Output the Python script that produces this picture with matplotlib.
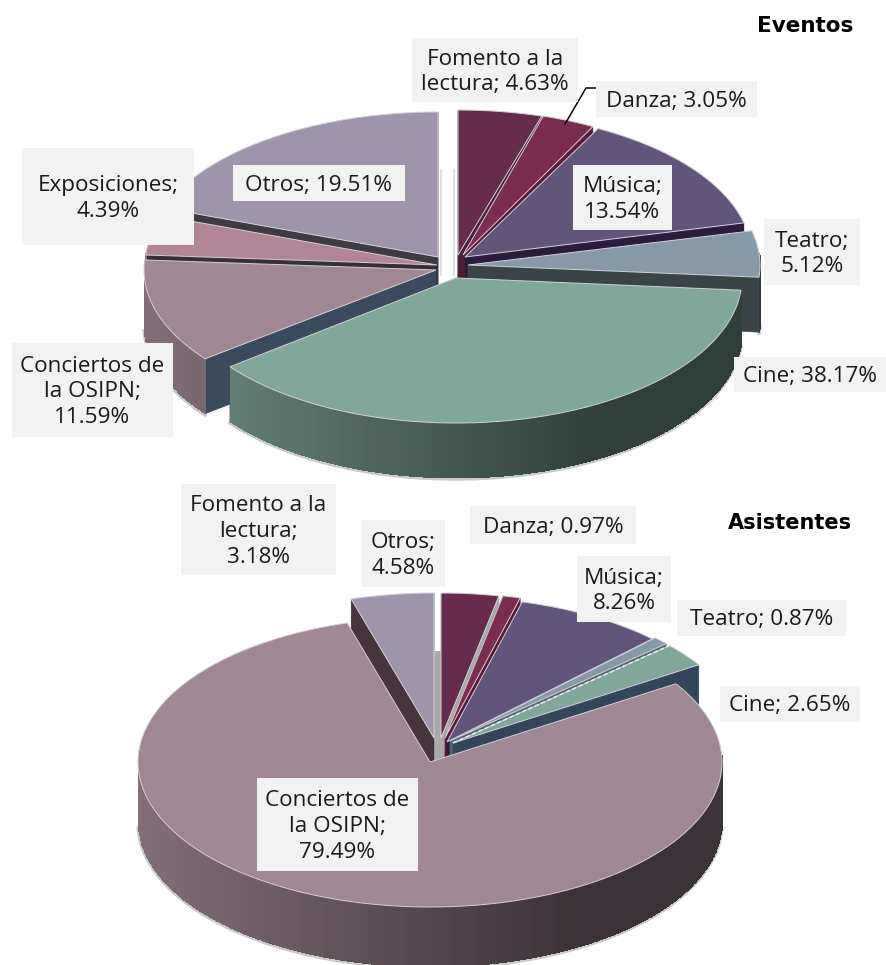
import numpy as np
import matplotlib
matplotlib.use("Agg")
import matplotlib.pyplot as plt
from matplotlib.patches import Rectangle
from matplotlib.colors import to_rgb

# values
eventos_names = ["Fomento a la lectura", "Danza", "Música", "Teatro", "Cine",
                 "Conciertos de la OSIPN", "Exposiciones", "Otros"]
eventos_vals = [4.63, 3.05, 13.54, 5.12, 38.17, 11.59, 4.39, 19.51]

asist_names = ["Fomento a la lectura", "Danza", "Música", "Teatro", "Cine",
               "Conciertos de la OSIPN", "Otros"]
asist_vals = [3.18, 0.97, 8.26, 0.87, 2.65, 79.49, 4.58]

# colours
eventos_top = ["#652C4C", "#7B2D50", "#62557A", "#8799A6", "#81A69A", "#9F8793", "#B08595", "#9F95AB"]
eventos_wall = ["#4A1F38", "#5B1A38", "#2A1C3C", "#3A4446", "#3A4446", "#3C4A5E", "#3A2E36", "#3D3A42"]
asist_top = ["#652C4C", "#7B2D50", "#62557A", "#8799A6", "#81A69A", "#9F8793", "#9F95AB"]
asist_wall = ["#A8A8A8", "#5B1A38", "#2A1C3C", "#56646E", "#34465A", "#34465A", "#47353D"]

# where each slice's tip sits (pixels), the slices are pulled apart by hand
eventos_tips = [(458, 255), (463, 255), (465, 257), (468, 265), (456, 278), (436, 270), (437, 265), (438, 257)]
eventos_rx = [292, 280, 287, 292, 286, 292, 292, 292]
asist_tips = [(441, 738), (445, 738), (447, 742), (450, 741), (453, 743), (430, 762), (434, 738)]
asist_rx = [292] * 7

fig = plt.figure(figsize=(8.86, 9.65), dpi=100)
ax = fig.add_axes([0, 0, 1, 1])
ax.set_xlim(0, 886)
ax.set_ylim(965, 0)
ax.axis("off")


def draw_pie(vals, tips, tops, walls, rxs, ry, depth):
    edges = np.cumsum([0] + vals) / sum(vals) * 2 * np.pi
    order = sorted(range(len(vals)), key=lambda i: np.cos((edges[i] + edges[i + 1]) / 2), reverse=True)
    arcs = []
    for i in order:
        cx, cy = tips[i]
        rx = rxs[i]
        t = np.linspace(edges[i], edges[i + 1], 160)
        px = cx + rx * np.sin(t)
        py = cy - ry * np.cos(t)
        arcs.append((px, py))
        # soft grey rim under the body
        front = np.cos(t) < -0.03
        if front.any():
            ax.plot(px[front], py[front] + depth + 1, color="#a5a5a5", lw=2.5, alpha=0.6, zorder=1)
        # cut faces
        for e in (0, -1):
            ax.fill([cx, px[e], px[e], cx], [cy, py[e], py[e] + depth, cy + depth],
                    color=walls[i], lw=0.3, zorder=2)
        # outer side, shaded left to right
        base = np.array(to_rgb(tops[i]))
        for j in range(len(t) - 1):
            if np.cos(t[j]) < 0.08:
                f = 0.82 - 0.44 * min(1, (np.sin(t[j]) + 1) / 1.5)
                c = base * f
                ax.fill([px[j], px[j + 1] + 0.6, px[j + 1] + 0.6, px[j]],
                        [py[j], py[j + 1], py[j + 1] + depth, py[j] + depth],
                        color=c, lw=0, antialiased=False, zorder=2)
    # top faces go last
    for k, i in enumerate(order):
        cx, cy = tips[i]
        px, py = arcs[k]
        ax.fill(np.r_[cx, px], np.r_[cy, py], facecolor=tops[i], edgecolor="#d2d0d6", lw=0.7, zorder=3)


# faint shadows seen through the gap at 12 o'clock
ax.plot([441, 441], [170, 275], color="#e0e0e0", lw=1.5, zorder=1)
ax.plot([454, 454], [170, 275], color="#e0e0e0", lw=1.5, zorder=1)
ax.fill([435.5, 441, 441, 435.5], [651, 651, 762, 762], color="#A9ABA8", lw=0, zorder=1)

draw_pie(eventos_vals, eventos_tips, eventos_top, eventos_wall, eventos_rx, 145, 55)
draw_pie(asist_vals, asist_tips, asist_top, asist_wall, asist_rx, 145, 60)

# pale dashes between Teatro and Cine in the lower pie
teatro_end = (asist_vals[0] + asist_vals[1] + asist_vals[2] + asist_vals[3]) / 100 * 2 * np.pi
ax.plot([453, 453 + 292 * np.sin(teatro_end)], [743, 743 - 145 * np.cos(teatro_end)],
        color="#e6eeee", lw=1.1, ls=(0, (3, 1.5)), zorder=4)

# labels: text, box left, top, right, bottom
labels = [
    (f"Fomento a la\nlectura; {eventos_vals[0]:.2f}%", 412, 38, 578, 102),
    (f"Danza; {eventos_vals[1]:.2f}%", 596, 81, 757, 117),
    (f"Música;\n{eventos_vals[2]:.2f}%", 573, 165, 672, 230),
    (f"Teatro;\n{eventos_vals[3]:.2f}%", 764, 219, 860, 285),
    (f"Cine; {eventos_vals[4]:.2f}%", 734, 357, 886, 392),
    (f"Conciertos de\nla OSIPN;\n{eventos_vals[5]:.2f}%", 12, 343, 173, 437),
    (f"Exposiciones;\n{eventos_vals[6]:.2f}%", 22, 148, 194, 245),
    (f"Otros; {eventos_vals[7]:.2f}%", 233, 165, 405, 201),
    (f"Fomento a la\nlectura;\n{asist_vals[0]:.2f}%", 181, 484, 336, 575),
    (f"Danza; {asist_vals[1]:.2f}%", 470, 506, 636, 544),
    (f"Música;\n{asist_vals[2]:.2f}%", 577, 556, 671, 622),
    (f"Teatro; {asist_vals[3]:.2f}%", 677, 600, 846, 636),
    (f"Cine; {asist_vals[4]:.2f}%", 720, 686, 860, 722),
    (f"Conciertos de\nla OSIPN;\n{asist_vals[5]:.2f}%", 257, 778, 418, 871),
    (f"Otros;\n{asist_vals[6]:.2f}%", 362, 520, 445, 587),
]
for txt, x0, y0, x1, y1 in labels:
    ax.add_patch(Rectangle((x0, y0), x1 - x0, y1 - y0, facecolor="#F2F2F2", edgecolor="none", zorder=5))
    ax.text((x0 + x1) / 2, (y0 + y1) / 2 + 2, txt, ha="center", va="center", fontsize=16.2,
            color="#1a1a1a", linespacing=1.3, family="Open Sans", zorder=6)

# leader line for Danza
ax.plot([565, 586, 596], [124, 88, 88], color="black", lw=1.1, zorder=4)

ax.text(853, 26, "Eventos", ha="right", va="center", fontsize=15.5, fontweight="bold", family="DejaVu Sans", color="black")
ax.text(852, 523, "Asistentes", ha="right", va="center", fontsize=15, fontweight="bold", family="DejaVu Sans", color="black")

fig.savefig("out.png", dpi=100, facecolor="white")
